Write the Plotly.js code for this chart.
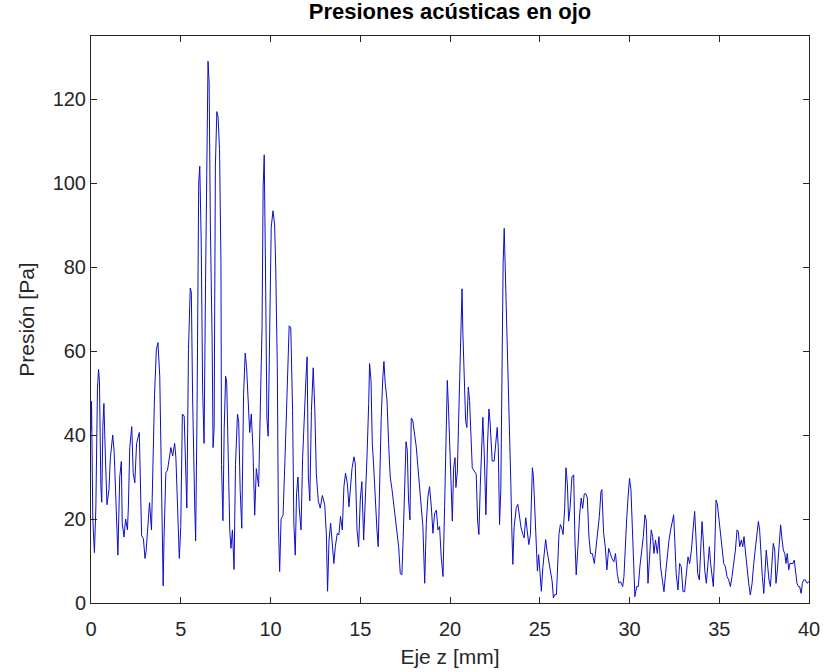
<!DOCTYPE html>
<html>
<head>
<meta charset="utf-8">
<script src="https://cdn.plot.ly/plotly-3.0.1.min.js"></script>
<style>html,body{margin:0;padding:0;background:#fff;}#chart{width:824px;height:672px;}</style>
</head>
<body>
<div id="chart"></div>
<script>
// Eje z [mm] and Presión [Pa], in segments
const zA = [0, 0.03, 0.1, 0.19, 0.27, 0.36, 0.42, 0.47, 0.55, 0.6, 0.66, 0.72, 0.8, 0.89, 1.0, 1.08, 1.21, 1.29, 1.4, 1.5, 1.6, 1.69, 1.74, 1.84, 1.93, 2.03, 2.08, 2.16, 2.27, 2.35, 2.44, 2.54, 2.69, 2.75, 2.82, 2.92, 3.01, 3.07, 3.16, 3.26, 3.37, 3.45, 3.54, 3.64, 3.73, 3.83, 3.92, 4.02, 4.07, 4.17, 4.26, 4.36, 4.45, 4.55, 4.66, 4.73, 4.81, 4.92, 5.0, 5.09, 5.19, 5.28, 5.34, 5.43, 5.53, 5.59, 5.66, 5.78, 5.83, 5.91, 6.0, 6.06, 6.14, 6.22, 6.3, 6.38, 6.45];
const pA = [41, 48, 20, 12, 22.6, 51, 55.6, 53, 27.7, 24, 42, 47.5, 35, 23.4, 27, 34.6, 40, 36, 23, 11.4, 30, 33.7, 19, 15.7, 20, 17.4, 22.6, 37, 42, 31, 28.6, 38, 40.6, 28.6, 16, 15.3, 10.6, 12.3, 18, 23.9, 17.4, 34.6, 49.6, 60.3, 62, 54, 24.3, 4.1, 15.7, 31, 31.6, 34.6, 37, 35, 38, 34.6, 22.6, 10.6, 18, 45, 44.5, 27, 22.6, 60.3, 75, 74, 49, 22.6, 14.8, 46.6, 100, 104, 86, 50.5, 38, 75.8, 112];

const zB = [6.52, 6.58, 6.65, 6.75, 6.8, 6.86, 6.93, 7.01, 7.08, 7.16, 7.24, 7.27, 7.35, 7.42, 7.5, 7.56, 7.65, 7.73, 7.8, 7.88, 7.97, 8.05, 8.16, 8.23, 8.31, 8.4, 8.5, 8.59, 8.67, 8.76, 8.84, 8.93, 9.02, 9.12, 9.21, 9.34, 9.44, 9.53, 9.59, 9.65, 9.72, 9.8, 9.87, 9.95, 10.04, 10.14, 10.23, 10.29, 10.38, 10.44, 10.51, 10.59, 10.7, 10.81, 10.93, 11.04, 11.13, 11.23, 11.3, 11.38, 11.45, 11.53, 11.6, 11.7, 11.79, 11.89, 11.98, 12.04, 12.11, 12.19, 12.28, 12.38, 12.47, 12.55, 12.66, 12.77, 12.89, 13.02, 13.11, 13.18];
const pB = [129, 124, 90, 62, 37, 41.5, 104, 117, 115.7, 108, 81, 33, 19.6, 41.5, 54, 52.6, 34.6, 17.4, 13, 17.4, 8, 33, 45, 43, 27, 17.8, 49.6, 59.5, 56, 47.5, 40.6, 45, 37, 20.9, 32, 27.7, 45.8, 66, 99, 106.7, 80, 44, 39.7, 59.5, 89.5, 93.4, 90, 80, 56, 19, 7.5, 20, 20.9, 34.6, 53.5, 66, 65.5, 45.8, 19, 11.4, 26, 30, 22.6, 17.4, 34.6, 46.6, 54, 58.6, 30, 24.3, 45.8, 56, 45.8, 31, 24.3, 22.6, 25.6, 23.4, 16.6, 2.8];

const zC = [13.26, 13.35, 13.44, 13.53, 13.61, 13.72, 13.81, 13.9, 14.0, 14.09, 14.18, 14.28, 14.37, 14.44, 14.54, 14.65, 14.72, 14.82, 14.91, 15.0, 15.09, 15.19, 15.28, 15.37, 15.47, 15.52, 15.6, 15.67, 15.74, 15.84, 15.93, 16.0, 16.08, 16.17, 16.26, 16.32, 16.39, 16.49, 16.58, 16.67, 16.77, 16.86, 16.95, 17.04, 17.14, 17.23, 17.32, 17.4, 17.47, 17.55, 17.62, 17.69, 17.77, 17.84, 17.92, 18.03, 18.12, 18.21, 18.31, 18.4, 18.49, 18.59, 18.68, 18.77, 18.86, 18.96, 19.05, 19.14, 19.24, 19.33, 19.42, 19.51, 19.61, 19.7, 19.79, 19.85, 19.92];
const pC = [15, 19, 15, 9.4, 13.4, 16.6, 16.2, 20.6, 17.4, 27.7, 30.9, 28.5, 22.9, 27.7, 32, 34.8, 33.3, 17.4, 13.4, 24.5, 28.9, 15, 22.9, 34, 47.5, 57, 53, 38, 33.3, 23, 17.4, 13.4, 32.5, 44.4, 53.9, 57.5, 52.3, 48.3, 38, 30, 27, 23.7, 21.3, 16.6, 13.4, 7, 6.7, 16.6, 28.5, 38.4, 36.4, 24.5, 19.8, 44, 43.6, 40.4, 37.2, 32.5, 27.7, 23.7, 18.2, 4.7, 19, 25.3, 27.7, 22.9, 16.6, 21.3, 22.1, 17.4, 18.2, 11, 6.3, 23, 40.4, 53, 46];

const zD = [20.04, 20.13, 20.2, 20.28, 20.33, 20.41, 20.48, 20.54, 20.61, 20.67, 20.72, 20.8, 20.87, 20.94, 21.02, 21.09, 21.17, 21.24, 21.35, 21.46, 21.54, 21.61, 21.69, 21.76, 21.83, 21.91, 22.0, 22.09, 22.17, 22.24, 22.35, 22.46, 22.56, 22.63, 22.69, 22.76, 22.83, 22.89, 22.96, 23.02, 23.09, 23.17, 23.24, 23.31, 23.39, 23.44, 23.5, 23.57, 23.69, 23.78, 23.87, 23.96, 24.06, 24.13, 24.22, 24.3, 24.39, 24.48, 24.59, 24.65, 24.72, 24.8, 24.87, 24.94, 25.02, 25.09, 25.17, 25.26, 25.33, 25.41, 25.5, 25.59, 25.69, 25.76, 25.83, 25.93, 26.0, 26.07, 26.15, 26.22, 26.3, 26.39, 26.46, 26.54, 26.61, 26.69];
const pD = [27.5, 19.5, 32, 34.6, 27.5, 31.4, 43.4, 55.3, 69.7, 74.8, 64, 49.8, 43.4, 41.8, 51.4, 48.2, 37, 32.2, 31.4, 30.7, 19.5, 16.3, 28.3, 38.6, 44.2, 35.4, 21, 37.8, 46.2, 42.6, 33.8, 33.8, 38.6, 41.8, 37, 18.7, 26.7, 57.7, 80.8, 89.2, 78.4, 64, 49.8, 38.6, 28.3, 17.9, 9.2, 17.9, 22.7, 23.5, 20.3, 17.9, 16.3, 15.5, 20.3, 16.3, 13.9, 16.3, 32.2, 29.9, 22.7, 14.7, 7.6, 11.5, 6.8, 2.8, 8.4, 13.1, 15.1, 12.3, 10, 8.4, 5.2, 1.2, 2, 2, 7.6, 16.3, 18.7, 17.9, 16.3, 22.7, 32.2, 28.3, 19.5, 22.7];

const zE = [26.79, 26.89, 26.96, 27.03, 27.13, 27.22, 27.31, 27.39, 27.48, 27.57, 27.65, 27.74, 27.83, 27.93, 28.04, 28.13, 28.22, 28.32, 28.41, 28.46, 28.56, 28.65, 28.74, 28.84, 28.93, 29.02, 29.13, 29.22, 29.32, 29.41, 29.5, 29.62, 29.69, 29.76, 29.84, 29.91, 30.0, 30.08, 30.15, 30.23, 30.3, 30.4, 30.49, 30.58, 30.67, 30.77, 30.86, 30.93, 31.03, 31.12, 31.21, 31.29, 31.36, 31.45, 31.55, 31.64, 31.73, 31.83, 31.92, 32.01, 32.1, 32.2, 32.29, 32.38, 32.46, 32.53, 32.6, 32.7, 32.79, 32.88, 32.98, 33.07, 33.16];
const pE = [30, 30.5, 15, 6.7, 13.4, 21, 25, 22.5, 26, 26, 25, 15.8, 11.8, 11.8, 9.4, 13.4, 15.8, 20.6, 26.5, 27, 16.6, 13.4, 7.9, 13, 11.8, 10.6, 9.8, 11.8, 7, 4.7, 5.1, 3.9, 6.3, 14.2, 19.8, 24.5, 29.7, 27, 19, 8.7, 1.5, 3.9, 3.9, 8.7, 11.8, 15.8, 21, 19.8, 4.7, 10.2, 17.4, 15.8, 11.8, 15, 11.8, 15.8, 8.7, 5.5, 2.7, 7, 11, 15, 17.4, 19, 21, 14.2, 7, 3.1, 9.4, 8.7, 2.7, 2.7, 7];

const zF = [33.26, 33.35, 33.45, 33.54, 33.63, 33.71, 33.8, 33.89, 33.97, 34.04, 34.11, 34.19, 34.28, 34.37, 34.45, 34.52, 34.6, 34.67, 34.75, 34.82, 34.89, 34.97, 35.06, 35.15, 35.25, 35.34, 35.43, 35.53, 35.62, 35.71, 35.8, 35.9, 35.99, 36.06, 36.14, 36.23, 36.31, 36.38, 36.45, 36.55, 36.64, 36.73, 36.83, 36.92, 37.01, 37.1, 37.18, 37.25, 37.33, 37.4, 37.48, 37.55, 37.62, 37.7, 37.77, 37.85, 37.92, 38.01, 38.09, 38.16, 38.24, 38.33, 38.42, 38.5, 38.57, 38.65, 38.72, 38.79, 38.87, 38.94, 39.02, 39.11, 39.18, 39.26, 39.33, 39.41, 39.48, 39.56, 39.63, 39.7, 39.8, 39.89, 40.0];
const pF = [11, 9.4, 12.6, 17.4, 21.8, 15, 7, 5.5, 12.6, 19.4, 15, 7.9, 4.7, 8.7, 13.4, 9.4, 6.3, 3.9, 12.6, 24.5, 23.7, 20.6, 16.6, 12.6, 9.4, 8.7, 6.3, 5.5, 3.9, 6.3, 9.4, 12.6, 17.4, 17, 13.4, 15, 13.4, 15.8, 12.6, 7.9, 4.7, 1.9, 4.7, 9.4, 13.4, 15.8, 19.4, 17.4, 10.2, 6.3, 2.3, 7, 12.6, 8.7, 5.5, 3.9, 7.9, 14.2, 12.6, 4.7, 7.9, 13.4, 18.6, 15, 12.6, 11.8, 9.4, 11.8, 7.9, 9.4, 9.4, 9.4, 10.2, 7.9, 4.7, 3.9, 3.9, 2.3, 4.7, 5.5, 5.5, 4.7, 5.1];

const xTicks = [0, 5, 10, 15, 20, 25, 30, 35, 40];
const yTicks = [0, 20, 40, 60, 80, 100, 120];

const zAll = [].concat(zA, zB, zC, zD, zE, zF);
const pAll = [].concat(pA, pB, pC, pD, pE, pF);

const axisColor = '#262626';
const fontFam = 'Liberation Sans, Arial, Helvetica, sans-serif';

const trace = {
  x: zAll, y: pAll, type: 'scatter', mode: 'lines',
  line: {color: '#0d0dc8', width: 1},
  hoverinfo: 'x+y'
};

const layout = {
  width: 824, height: 672,
  margin: {l: 91, r: 15, t: 36, b: 69, pad: 0},
  paper_bgcolor: '#ffffff', plot_bgcolor: '#ffffff',
  showlegend: false,
  font: {family: fontFam, color: axisColor},
  title: {
    text: '<b>Presiones acústicas en ojo</b>',
    font: {family: fontFam, size: 22, color: '#000000'},
    x: 0.5, xref: 'paper', xanchor: 'center',
    y: 1 - 11/672, yref: 'container', yanchor: 'middle'
  },
  xaxis: {
    range: [0, 40], tickvals: xTicks, ticktext: xTicks.map(String),
    ticks: 'inside', ticklen: 6, tickwidth: 1, tickcolor: axisColor,
    showline: true, linecolor: axisColor, linewidth: 1, mirror: 'ticks',
    showgrid: false, zeroline: false, automargin: false,
    ticklabelstandoff: 8,
    tickfont: {family: fontFam, size: 20, color: axisColor},
    title: {text: 'Eje z [mm]', font: {family: fontFam, size: 21, color: axisColor}, standoff: 10}
  },
  yaxis: {
    range: [0, 135], tickvals: yTicks, ticktext: yTicks.map(String),
    ticks: 'inside', ticklen: 6, tickwidth: 1, tickcolor: axisColor,
    showline: true, linecolor: axisColor, linewidth: 1, mirror: 'ticks',
    showgrid: false, zeroline: false, automargin: false,
    tickfont: {family: fontFam, size: 20, color: axisColor},
    title: {text: 'Presión [Pa]', font: {family: fontFam, size: 21, color: axisColor}, standoff: 12}
  }
};

Plotly.newPlot('chart', [trace], layout, {displayModeBar: false, staticPlot: true});
</script>
</body>
</html>
